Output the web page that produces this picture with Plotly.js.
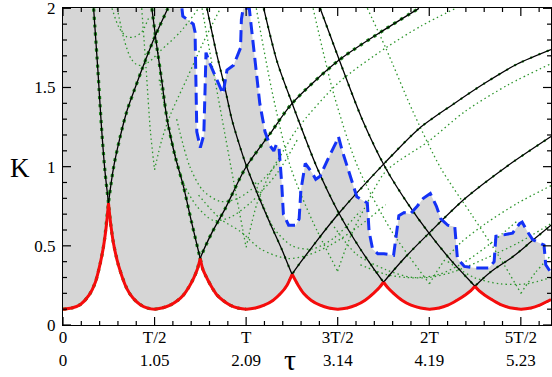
<!DOCTYPE html>
<html><head><meta charset="utf-8">
<script src="https://cdn.plot.ly/plotly-3.0.1.min.js"></script>
<style>html,body{margin:0;padding:0;background:#fff}#chart{width:552px;height:377px}</style>
</head><body><div id="chart"></div>
<script>
// ---------- tick labels ----------
const tickVals = [0, 1.047, 2.094, 3.142, 4.189, 5.236];
const tickTop = ["0", "T/2", "T", "3T/2", "2T", "5T/2"];
const tickBottom = ["0", "1.05", "2.09", "3.14", "4.19", "5.23"];
const yTickVals = [0, 0.5, 1, 1.5, 2];
const yTickText = ["0", "0.5", "1", "1.5", "2"];

// ---------- red envelope ----------
const redT = [0,0.1,0.2,0.3,0.37,0.43,0.47,0.50,0.52, 0.545,0.576,0.633,0.73,0.80,0.88,0.96,1.047, 1.13,1.226,1.31,1.378,1.44,1.493,1.535,1.569, 1.60,1.646,1.70,1.76,1.83,1.91,2.0,2.094, 2.2,2.30,2.40,2.49,2.56,2.62, 2.69,2.75,2.84,2.94,3.04,3.14, 3.25,3.35,3.45,3.55,3.615,3.665, 3.715,3.78,3.88,3.98,4.09,4.19, 4.30,4.40,4.50,4.60,4.66,4.71, 4.76,4.82,4.92,5.02,5.13,5.236, 5.35,5.45,5.58];
const redK = [0.10,0.107,0.13,0.19,0.27,0.40,0.52,0.65,0.77, 0.64,0.52,0.38,0.23,0.17,0.13,0.108,0.10, 0.107,0.126,0.155,0.19,0.24,0.295,0.35,0.42, 0.35,0.295,0.24,0.19,0.155,0.126,0.107,0.10, 0.107,0.125,0.155,0.20,0.25,0.32, 0.25,0.20,0.155,0.125,0.107,0.10, 0.107,0.125,0.155,0.20,0.235,0.27, 0.235,0.20,0.155,0.125,0.107,0.10, 0.107,0.125,0.155,0.19,0.215,0.245, 0.215,0.19,0.155,0.125,0.107,0.10, 0.107,0.125,0.16];

// ---------- blue dashed ----------
const blueT = [1.36,1.37,1.42,1.49,1.51,1.52,1.53,1.57,1.61,1.625,1.635,1.68,1.72,1.78,1.83,1.875,1.95,2.03,2.04,2.06,2.13,2.16,2.20,2.25,2.31,2.37,2.41,2.44,2.47,2.49,2.50,2.52,2.58,2.66,2.70,2.72,2.75,2.77,2.85,2.89,2.94,2.98,3.04,3.12,3.15,3.19,3.25,3.31,3.36,3.42,3.48,3.50,3.54,3.60,3.67,3.78,3.81,3.84,3.90,3.97,4.05,4.12,4.20,4.27,4.32,4.40,4.48,4.51,4.59,4.72,4.87,4.93,4.95,5.06,5.14,5.22,5.25,5.31,5.37,5.44,5.50,5.52,5.58];
const blueK = [2.0,1.95,1.93,1.90,1.85,1.50,1.22,1.12,1.20,1.50,1.72,1.65,1.60,1.52,1.46,1.61,1.64,1.75,1.93,2.0,2.0,1.85,1.65,1.40,1.22,1.13,1.10,1.14,1.12,1.00,0.90,0.70,0.63,0.63,0.67,0.85,0.96,1.02,0.96,0.92,0.94,0.99,1.06,1.15,1.19,1.105,1.0,0.895,0.81,0.79,0.77,0.59,0.48,0.45,0.45,0.44,0.56,0.69,0.71,0.70,0.75,0.80,0.83,0.75,0.67,0.63,0.62,0.42,0.37,0.36,0.36,0.40,0.56,0.57,0.58,0.64,0.65,0.59,0.54,0.52,0.505,0.38,0.33];

// ---------- black branches ----------
const c0R_t = [0,0.1,0.2,0.30,0.37,0.43,0.47,0.52,0.58,0.65,0.73,0.82,0.90,1.05,1.20];
const c0R_k = [0.10,0.107,0.13,0.19,0.27,0.40,0.52,0.77,1.0,1.18,1.35,1.49,1.61,1.82,2.0];
const c1L_t = [0.35,0.40,0.44,0.48,0.52,0.545,0.576,0.633,0.73,0.80,0.88,0.96,1.047];
const c1L_k = [2.0,1.6,1.25,0.97,0.77,0.64,0.52,0.38,0.23,0.17,0.13,0.108,0.10];
const c1R_t = [1.047,1.13,1.226,1.31,1.378,1.44,1.493,1.535,1.569,1.70,1.85,2.085,2.37,2.62,3.15,3.69,4.07];
const c1R_k = [0.10,0.107,0.126,0.155,0.19,0.24,0.295,0.35,0.42,0.58,0.73,0.99,1.21,1.40,1.67,1.87,2.0];
const c2L_t = [1.016,1.07,1.13,1.19,1.28,1.378,1.47,1.569,1.60,1.646,1.70,1.76,1.83,1.91,2.0,2.094];
const c2L_k = [2.0,1.77,1.54,1.30,1.07,0.874,0.65,0.42,0.35,0.295,0.24,0.19,0.155,0.126,0.107,0.10];
const c2R_t = [2.094,2.2,2.30,2.40,2.49,2.56,2.62,2.90,3.155,3.69,4.07,4.45,4.83,5.2,5.58];
const c2R_k = [0.10,0.107,0.125,0.155,0.20,0.25,0.32,0.53,0.706,1.03,1.24,1.39,1.53,1.65,1.74];
const c3L_t = [1.646,1.75,1.85,1.93,2.01,2.10,2.23,2.37,2.50,2.62,2.69,2.75,2.84,2.94,3.04,3.14];
const c3L_k = [2.0,1.73,1.50,1.30,1.15,1.0,0.82,0.64,0.48,0.32,0.25,0.20,0.155,0.125,0.107,0.10];
const c3R_t = [3.14,3.25,3.35,3.45,3.55,3.615,3.665,3.90,4.185,4.60,5.07,5.58];
const c3R_k = [0.10,0.107,0.125,0.155,0.20,0.235,0.27,0.42,0.58,0.80,1.0,1.19];
const c4L_t = [2.295,2.45,2.62,2.90,3.155,3.40,3.665,3.715,3.78,3.88,3.98,4.09,4.19];
const c4L_k = [2.0,1.66,1.40,1.0,0.706,0.48,0.27,0.235,0.20,0.155,0.125,0.107,0.10];
const c4R_t = [4.19,4.30,4.40,4.50,4.60,4.66,4.71,4.90,5.14,5.35,5.58];
const c4R_k = [0.10,0.107,0.125,0.155,0.19,0.215,0.245,0.34,0.43,0.525,0.63];
const c5L_t = [2.94,3.155,3.42,3.69,3.95,4.185,4.45,4.71,4.76,4.82,4.92,5.02,5.13,5.236];
const c5L_k = [2.0,1.68,1.30,0.99,0.76,0.58,0.40,0.245,0.215,0.19,0.155,0.125,0.107,0.10];
const c5R_t = [5.236,5.35,5.45,5.58];
const c5R_k = [0.10,0.107,0.125,0.16];

// ---------- thin green dotted branches ----------
const gL1_t = [0.90,0.95,1.0,1.047];            const gL1_k = [2.0,1.62,1.22,0.98];
const gR1_t = [1.047,1.13,1.23,1.42,1.60,1.80]; const gR1_k = [0.98,1.17,1.33,1.56,1.78,2.0];
const gL2_t = [1.59,1.70,1.82,1.95,2.094];      const gL2_k = [2.0,1.66,1.30,0.91,0.49];
const gR2_t = [2.094,2.22,2.37,2.52,2.68,3.15,3.69,4.10,4.49]; const gR2_k = [0.49,0.77,0.96,1.10,1.24,1.53,1.75,1.89,2.0];
const gL3_t = [2.21,2.40,2.60,2.85,3.14];       const gL3_k = [2.0,1.45,1.0,0.66,0.34];
const gR3_t = [3.14,3.28,3.45,3.69,4.18,4.60,5.10,5.58]; const gR3_k = [0.34,0.55,0.74,0.97,1.16,1.35,1.52,1.65];
const gL4_t = [2.86,3.10,3.37,3.75,4.19];       const gL4_k = [2.0,1.45,1.0,0.60,0.26];
const gR4_t = [4.19,4.35,4.55,4.83,5.20,5.58];  const gR4_k = [0.26,0.40,0.52,0.64,0.77,0.88];
const gL5_t = [3.48,3.69,4.0,4.32,4.68,5.0,5.236]; const gL5_k = [2.0,1.75,1.35,0.99,0.69,0.42,0.20];
const gR5_t = [5.236,5.40,5.58];                const gR5_k = [0.20,0.33,0.44];
const gU0a_t = [0.56,0.64,0.73,0.82,0.90,0.98]; const gU0a_k = [2.0,1.88,1.82,1.82,1.85,1.94];
const gU0b_t = [0.62,0.70,0.78,0.86,0.98,1.11,1.34,1.55]; const gU0b_k = [2.0,1.80,1.68,1.64,1.66,1.73,1.85,2.0];
const gU1a_t = [1.10,1.26,1.38,1.53,1.72,1.91,2.14,2.45,2.68]; const gU1a_k = [1.55,1.13,0.895,0.75,0.66,0.68,0.77,0.96,1.17];
const gU1b_t = [1.30,1.45,1.60,1.80,2.00,2.25,2.50]; const gU1b_k = [1.30,1.00,0.85,0.78,0.80,0.90,1.05];
const gU2a_t = [1.55,1.80,2.03,2.26,2.56,2.79,3.06,3.40,3.69]; const gU2a_k = [0.82,0.67,0.59,0.48,0.42,0.44,0.505,0.63,0.76];
const gU2b_t = [2.20,2.40,2.62,2.85,3.10,3.40]; const gU2b_k = [0.90,0.62,0.50,0.48,0.55,0.72];
const gU3a_t = [3.10,3.35,3.69,4.00,4.30,4.60,4.90,5.20]; const gU3a_k = [0.62,0.45,0.35,0.30,0.32,0.40,0.52,0.66];
const gU3b_t = [3.40,3.69,3.92,4.18,4.46,4.83,5.21,5.58]; const gU3b_k = [0.38,0.32,0.30,0.30,0.335,0.42,0.52,0.64];
const gU4_t = [4.40,4.70,5.00,5.30,5.58];       const gU4_k = [0.40,0.30,0.26,0.26,0.30];

// ---------- build traces ----------
const blackSets = [[c0R_t,c0R_k],[c1L_t,c1L_k],[c1R_t,c1R_k],[c2L_t,c2L_k],[c2R_t,c2R_k],[c3L_t,c3L_k],[c3R_t,c3R_k],[c4L_t,c4L_k],[c4R_t,c4R_k],[c5L_t,c5L_k],[c5R_t,c5R_k]];
const greenSets = [[gL1_t,gL1_k],[gR1_t,gR1_k],[gL2_t,gL2_k],[gR2_t,gR2_k],[gL3_t,gL3_k],[gR3_t,gR3_k],[gL4_t,gL4_k],[gR4_t,gR4_k],[gL5_t,gL5_k],[gR5_t,gR5_k],[gU0a_t,gU0a_k],[gU0b_t,gU0b_k],[gU1a_t,gU1a_k],[gU1b_t,gU1b_k],[gU2a_t,gU2a_k],[gU2b_t,gU2b_k],[gU3a_t,gU3a_k],[gU3b_t,gU3b_k],[gU4_t,gU4_k]];

// split the red envelope at its cusps so each arc is smoothed on its own
const redX = [], redY = [];
for (let i = 0; i < redT.length; i++) {
  redX.push(redT[i]); redY.push(redK[i]);
  if (i > 0 && i < redT.length - 1 && redK[i] > redK[i-1] && redK[i] > redK[i+1]) {
    redX.push(null); redY.push(null); redX.push(redT[i]); redY.push(redK[i]);
  }
}

const W = 552, H = 377, M = {l: 63, r: 1, t: 8, b: 52};
const xMax = 5.58, yMax = 2.002;
const yTop = yTickVals[yTickVals.length - 1];
const traces = [];
traces.push({x: [0].concat(blueT), y: [yTop].concat(blueK), mode: 'lines', line: {width: 0}, fill: 'tozeroy', fillcolor: '#d6d6d6', hoverinfo: 'skip'});
traces.push({x: redX, y: redY, mode: 'lines', line: {width: 0, shape: 'spline', smoothing: 0.8}, fill: 'tozeroy', fillcolor: '#ffffff', connectgaps: false, hoverinfo: 'skip'});
greenSets.forEach(s => traces.push({x: s[0], y: s[1], mode: 'lines', line: {color: 'rgb(45,150,45)', width: 1.3, dash: '1.5px,3px', shape: 'spline', smoothing: 0.8}, hoverinfo: 'skip'}));
blackSets.forEach((s, i) => traces.push({x: s[0], y: s[1], mode: 'lines', line: {color: 'rgb(25,135,25)', width: i < 4 ? 3.2 : 2.2, dash: i < 4 ? '3px,5px' : '2px,7px', shape: 'spline', smoothing: 0.8}, hoverinfo: 'skip'}));
blackSets.forEach(s => traces.push({x: s[0], y: s[1], mode: 'lines', line: {color: '#000000', width: 1.3, shape: 'spline', smoothing: 0.8}, hoverinfo: 'skip'}));
traces.push({x: blueT, y: blueK, mode: 'lines', line: {color: 'rgb(20,50,245)', width: 3, dash: '12px,6px'}, hoverinfo: 'skip'});
traces.push({x: redX, y: redY, mode: 'lines', line: {color: 'rgb(245,12,12)', width: 3, shape: 'spline', smoothing: 0.8}, connectgaps: false, hoverinfo: 'skip'});

// inward tick marks on all four sides, as one line trace (lengths converted from pixels)
const xPx = xMax / (W - M.l - M.r), yPx = yMax / (H - M.t - M.b);
const tkX = [], tkY = [];
const xMinorStep = tickVals[1] / 5;
for (let i = 0; i * xMinorStep <= xMax + 1e-9; i++) {
  const v = i * xMinorStep, len = (i % 5 === 0 ? 8 : 4) * yPx;
  tkX.push(v, v, null, v, v, null); tkY.push(0, len, null, yMax, yMax - len, null);
}
for (let i = 0; i <= 20; i++) {
  const v = i * 0.1, len = (i % 5 === 0 ? 8 : 4) * xPx;
  tkX.push(0, len, null, xMax, xMax - len, null); tkY.push(v, v, null, v, v, null);
}
traces.push({x: tkX, y: tkY, mode: 'lines', line: {color: '#000', width: 1.2}, connectgaps: false, hoverinfo: 'skip', cliponaxis: false});

const serif = 'Liberation Serif, Times New Roman, serif';
const layout = {
  width: W, height: H,
  margin: M,
  paper_bgcolor: '#ffffff', plot_bgcolor: '#ffffff',
  showlegend: false,
  font: {family: serif, color: '#000', size: 17},
  xaxis: {
    range: [0, xMax], showgrid: false, zeroline: false,
    showline: true, linecolor: '#000', linewidth: 1, mirror: true,
    ticks: '', tickmode: 'array', tickvals: tickVals,
    ticktext: tickTop.map((s, i) => s + '<br>' + tickBottom[i]),
    tickfont: {family: serif, size: 17, color: '#000'},
    ticklabelstandoff: -3
  },
  yaxis: {
    range: [0, yMax], showgrid: false, zeroline: false,
    showline: true, linecolor: '#000', linewidth: 1, mirror: true,
    ticks: '', tickmode: 'array', tickvals: yTickVals, ticktext: yTickText,
    tickfont: {family: serif, size: 17, color: '#000'},
    ticklabelstandoff: 3,
    ticklabeloverflow: 'allow'
  },
  annotations: [
    {text: 'K', xref: 'paper', yref: 'paper', x: -0.088, y: 0.496, xanchor: 'center', yanchor: 'middle', showarrow: false, font: {family: serif, size: 27, color: '#000'}},
    {text: 'τ', xref: 'paper', yref: 'paper', x: 0.465, y: -0.11, xanchor: 'center', yanchor: 'middle', showarrow: false, font: {family: serif, size: 30, color: '#000'}}
  ]
};
Plotly.newPlot('chart', traces, layout, {staticPlot: true, displayModeBar: false});
</script></body></html>
